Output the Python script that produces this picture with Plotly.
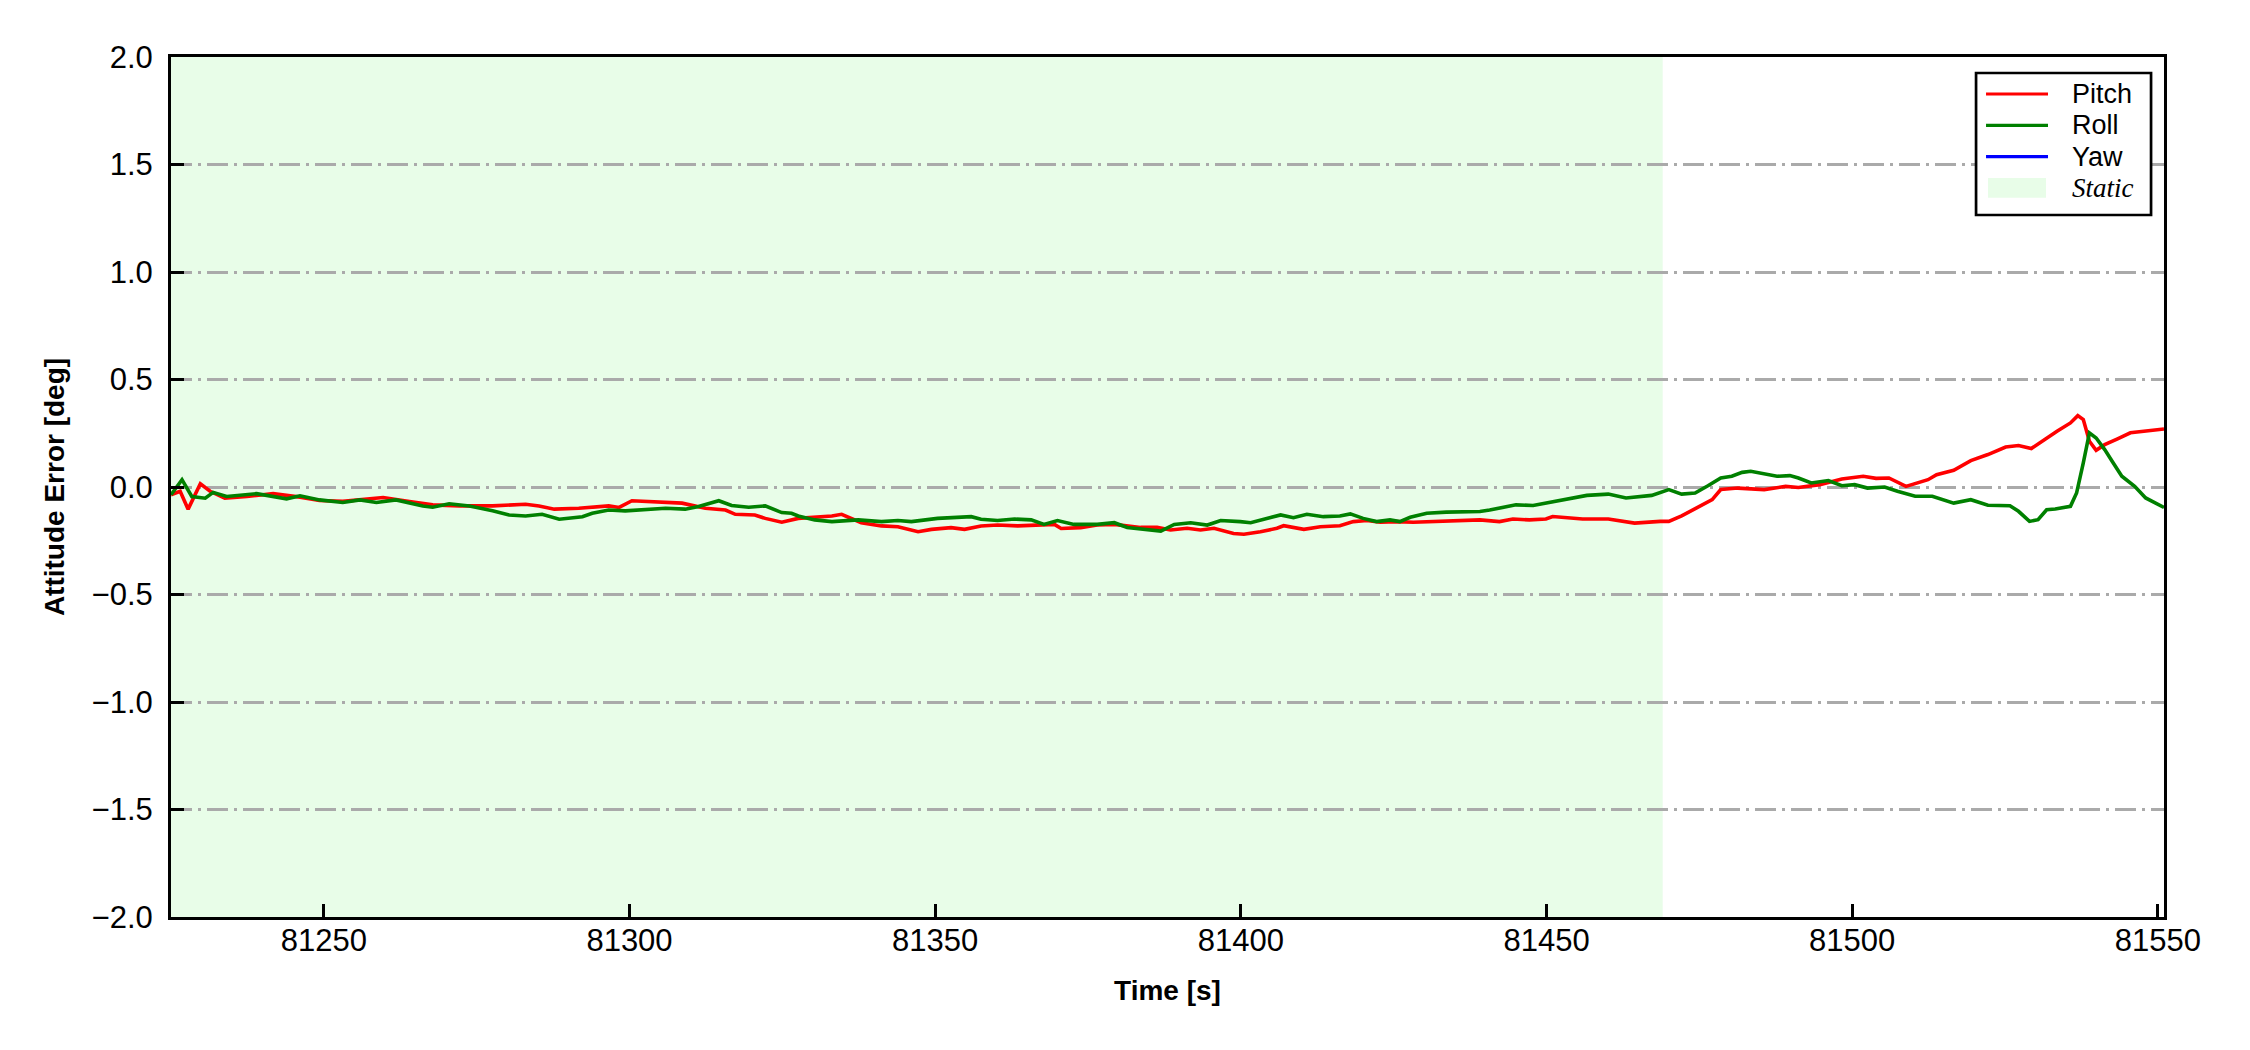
import plotly.graph_objects as go

# attitude error time series
pitch_time = [81225.0, 81226.5, 81227.8, 81229.8, 81231.4, 81233.8, 81237.4, 81241.7, 81246.1, 81249.3,
              81253.1, 81259.7, 81264.0, 81267.8, 81272.2, 81277.6, 81283.0, 81285.2, 81287.7, 81291.7,
              81296.6, 81298.3, 81300.4, 81304.2, 81308.6, 81312.4, 81315.7, 81317.3, 81320.5, 81322.2,
              81324.9, 81327.6, 81330.3, 81333.1, 81334.7, 81337.9, 81341.2, 81343.9, 81347.2, 81349.4,
              81352.6, 81354.8, 81357.5, 81360.2, 81363.5, 81366.8, 81369.5, 81370.6, 81373.8, 81376.5,
              81379.3, 81383.6, 81386.3, 81388.5, 81391.2, 81393.4, 81395.6, 81398.8, 81400.5, 81403.2,
              81405.9, 81407.0, 81410.3, 81413.0, 81416.2, 81418.4, 81420.6, 81422.8, 81425.5, 81428.2,
              81433.6, 81439.1, 81442.3, 81444.5, 81447.2, 81449.9, 81451.0, 81455.9, 81460.1, 81464.4,
              81468.6, 81470.0, 81472.1, 81475.0, 81477.1, 81478.5, 81481.3, 81485.6, 81489.1, 81491.2,
              81494.7, 81498.3, 81501.8, 81503.9, 81506.0, 81508.8, 81512.4, 81513.8, 81516.6, 81519.4,
              81522.2, 81525.1, 81527.2, 81529.3, 81531.4, 81533.5, 81535.7, 81536.9, 81537.8, 81538.8,
              81539.9, 81541.3, 81543.4, 81545.5, 81547.7, 81551.0]
pitch_err = [-0.036, -0.020, -0.103, 0.015, -0.020, -0.052, -0.044, -0.031, -0.047, -0.063,
             -0.067, -0.049, -0.067, -0.083, -0.088, -0.088, -0.080, -0.088, -0.103, -0.099,
             -0.088, -0.095, -0.064, -0.070, -0.075, -0.099, -0.107, -0.127, -0.130, -0.146,
             -0.164, -0.146, -0.141, -0.135, -0.127, -0.166, -0.181, -0.185, -0.208, -0.197,
             -0.189, -0.197, -0.181, -0.177, -0.181, -0.177, -0.174, -0.193, -0.189, -0.177,
             -0.174, -0.188, -0.188, -0.200, -0.192, -0.200, -0.192, -0.216, -0.220, -0.208,
             -0.192, -0.180, -0.197, -0.185, -0.180, -0.161, -0.156, -0.164, -0.161, -0.164,
             -0.158, -0.153, -0.161, -0.149, -0.153, -0.149, -0.137, -0.149, -0.149, -0.168,
             -0.160, -0.160, -0.134, -0.090, -0.059, -0.012, -0.005, -0.012, 0.003, -0.002,
             0.011, 0.037, 0.050, 0.040, 0.042, 0.003, 0.034, 0.057, 0.078, 0.123,
             0.151, 0.186, 0.193, 0.179, 0.220, 0.259, 0.298, 0.332, 0.314, 0.213,
             0.171, 0.197, 0.224, 0.252, 0.259, 0.270]

roll_time = [81225.0, 81226.8, 81228.4, 81230.6, 81231.9, 81234.1, 81239.0, 81243.9, 81246.1, 81249.3,
             81253.1, 81255.9, 81258.6, 81261.8, 81266.2, 81267.8, 81270.5, 81273.8, 81277.6, 81280.3,
             81283.0, 81285.7, 81288.5, 81292.3, 81293.9, 81296.6, 81299.3, 81304.8, 81305.9, 81309.1,
             81311.3, 81314.6, 81316.7, 81319.5, 81322.2, 81324.9, 81326.5, 81327.6, 81330.3, 81333.1,
             81337.4, 81341.2, 81343.9, 81346.1, 81348.3, 81350.4, 81355.9, 81357.5, 81360.2, 81363.0,
             81365.7, 81367.8, 81370.0, 81372.7, 81376.5, 81379.3, 81381.4, 81384.7, 81386.9, 81389.1,
             81391.8, 81394.5, 81396.7, 81399.9, 81401.6, 81406.5, 81408.6, 81410.8, 81413.5, 81416.2,
             81417.9, 81420.0, 81422.2, 81424.4, 81426.0, 81427.7, 81430.4, 81433.6, 81439.1, 81440.7,
             81442.3, 81445.0, 81447.8, 81449.9, 81452.4, 81456.6, 81460.1, 81463.0, 81467.2, 81468.6,
             81470.0, 81472.1, 81474.3, 81476.4, 81478.5, 81480.3, 81482.0, 81483.4, 81487.7, 81489.8,
             81491.2, 81493.3, 81496.1, 81498.3, 81500.4, 81502.5, 81505.3, 81507.4, 81510.3, 81513.1,
             81516.6, 81519.4, 81522.2, 81525.8, 81527.2, 81529.0, 81530.4, 81531.8, 81533.2, 81535.7,
             81536.7, 81537.8, 81538.8, 81539.9, 81541.3, 81542.7, 81544.1, 81546.2, 81548.0, 81551.0]
roll_err = [-0.036, 0.034, -0.044, -0.052, -0.025, -0.044, -0.031, -0.055, -0.041, -0.060,
            -0.072, -0.060, -0.072, -0.060, -0.088, -0.094, -0.078, -0.088, -0.110, -0.130,
            -0.135, -0.127, -0.150, -0.138, -0.122, -0.107, -0.111, -0.103, -0.099, -0.103,
            -0.091, -0.064, -0.086, -0.094, -0.088, -0.119, -0.122, -0.135, -0.153, -0.161,
            -0.153, -0.161, -0.156, -0.161, -0.153, -0.146, -0.138, -0.150, -0.156, -0.149,
            -0.153, -0.174, -0.156, -0.174, -0.174, -0.166, -0.188, -0.200, -0.205, -0.174,
            -0.166, -0.177, -0.156, -0.161, -0.166, -0.130, -0.143, -0.127, -0.138, -0.135,
            -0.125, -0.146, -0.161, -0.153, -0.161, -0.141, -0.122, -0.117, -0.114, -0.107,
            -0.099, -0.083, -0.086, -0.075, -0.062, -0.039, -0.033, -0.051, -0.039, -0.025,
            -0.012, -0.033, -0.028, 0.006, 0.042, 0.050, 0.068, 0.073, 0.050, 0.053,
            0.042, 0.019, 0.030, 0.006, 0.011, -0.005, 0.000, -0.020, -0.043, -0.043,
            -0.075, -0.059, -0.085, -0.087, -0.113, -0.160, -0.152, -0.106, -0.102, -0.090,
            -0.028, 0.112, 0.252, 0.228, 0.174, 0.112, 0.050, 0.003, -0.051, -0.095]

# yaw is only listed in the legend, nothing visible inside the plotted range
yaw_time = []
yaw_err = []

static_start = 81225.0
static_end = 81469.0
x_range = [81225.0, 81551.0]
y_range = [-2.0, 2.0]
x_ticks = [81250, 81300, 81350, 81400, 81450, 81500, 81550]

legend_labels = ["Pitch", "Roll", "Yaw", "Static"]
series_colors = ["#ff0000", "#008000", "#0000ff"]
static_color = "#e8fde8"

font_family = "Liberation Sans, Arial, sans-serif"

fig = go.Figure()

fig.add_trace(go.Scatter(x=pitch_time, y=pitch_err, mode="lines", name=legend_labels[0],
                         line=dict(color=series_colors[0], width=3.6)))
fig.add_trace(go.Scatter(x=roll_time, y=roll_err, mode="lines", name=legend_labels[1],
                         line=dict(color=series_colors[1], width=3.6)))
fig.add_trace(go.Scatter(x=yaw_time, y=yaw_err, mode="lines", name=legend_labels[2],
                         line=dict(color=series_colors[2], width=3.6)))

# static period shading, under the grid
fig.add_vrect(x0=static_start, x1=static_end,
              fillcolor=static_color, line_width=0, layer="below")

# legend box drawn by hand (matplotlib-style, tight rows)
box_x0, box_x1 = 0.9057, 0.9935
box_y0, box_y1 = 0.8163, 0.9814
sample_x0, sample_x1 = 0.9107, 0.9418
text_x = 0.9529
row_top = 0.957
row_step = 0.0364

fig.add_shape(type="rect", xref="paper", yref="paper",
              x0=box_x0, x1=box_x1, y0=box_y0, y1=box_y1,
              fillcolor="white", line=dict(color="black", width=2.7))
for i, label in enumerate(legend_labels):
    row_y = row_top - i * row_step
    if i < len(series_colors):
        fig.add_shape(type="line", xref="paper", yref="paper",
                      x0=sample_x0, x1=sample_x1, y0=row_y, y1=row_y,
                      line=dict(color=series_colors[i], width=3.2))
        text = label
        family = font_family
    else:
        fig.add_shape(type="rect", xref="paper", yref="paper",
                      x0=sample_x0 + 0.001, x1=sample_x1 - 0.001,
                      y0=row_y - 0.0116, y1=row_y + 0.0116,
                      fillcolor=static_color, line_width=0)
        text = "<i>" + label + "</i>"
        family = "Liberation Serif, Times New Roman, serif"
    fig.add_annotation(x=text_x, y=row_y, xref="paper", yref="paper",
                       text=text, showarrow=False, xanchor="left", yanchor="middle",
                       font=dict(size=27, family=family, color="black"))

fig.update_layout(
    width=2250,
    height=1050,
    margin=dict(l=171, r=86, t=57, b=133),
    paper_bgcolor="white",
    plot_bgcolor="white",
    font=dict(family=font_family, size=31, color="black"),
    showlegend=False,
)

fig.update_xaxes(
    range=x_range,
    tickvals=x_ticks, tickformat="d",
    ticks="inside", ticklen=13, tickwidth=3, tickcolor="black",
    showline=True, linecolor="black", linewidth=3, mirror=True,
    showgrid=False, zeroline=False, automargin=False,
    ticklabelstandoff=-6,
    title=dict(text="<b>Time [s]</b>", font=dict(size=28), standoff=24),
)
fig.update_yaxes(
    range=y_range,
    dtick=0.5, tickformat=".1f",
    ticks="inside", ticklen=13, tickwidth=3, tickcolor="black",
    showline=True, linecolor="black", linewidth=3, mirror=True,
    showgrid=True, gridcolor="#aaaaaa", gridwidth=2.5, griddash="21px,6px,3px,6px",
    zeroline=False, automargin=False,
    ticklabelstandoff=9,
    title=dict(text="<b>Attitude Error [deg]</b>", font=dict(size=28), standoff=19),
)

fig.write_html("out.html", config={"displayModeBar": False},
               post_script="document.body.style.margin='0px';")
